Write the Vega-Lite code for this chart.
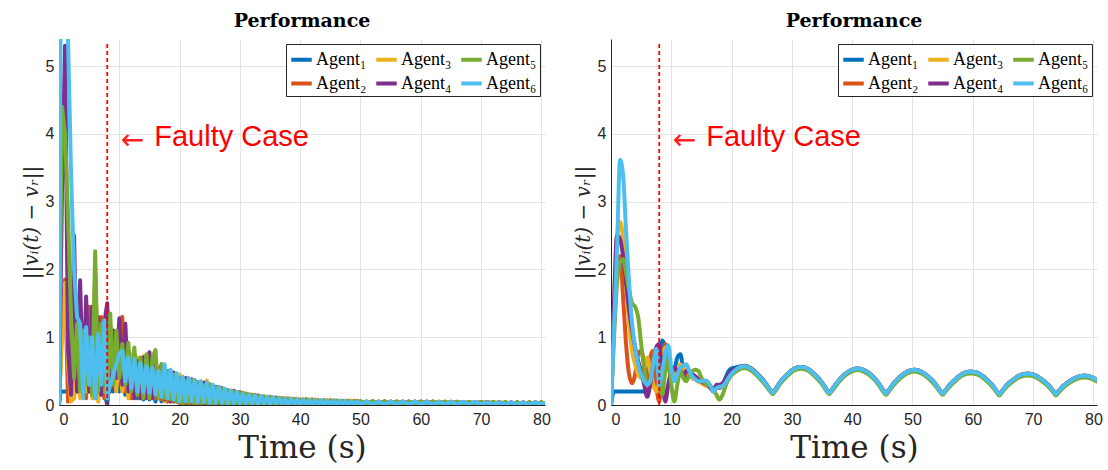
{
"$schema": "https://vega.github.io/schema/vega-lite/v6.json",
"background": "white",
"padding": {"left": 21, "top": 12, "right": 2, "bottom": 0},
"spacing": 22,
"resolve": {"legend": {"color": "independent"}},
"config": {
  "view": {"stroke": null},
  "axis": {"gridColor": "#e3e3e3", "gridWidth": 1, "domainColor": "#262626", "domainWidth": 1, "ticks": false,
           "labelFont": "Liberation Sans", "labelFontSize": 16, "labelColor": "#262626",
           "titleFont": "DejaVu Serif", "titleFontWeight": "normal", "titleColor": "#262626"},
  "title": {"font": "DejaVu Serif", "fontSize": 19, "fontWeight": "bold", "color": "#000000", "offset": 8},
  "legend": {"title": null, "orient": "top-right", "offset": 5, "columns": 3, "symbolType": "stroke", "symbolStrokeWidth": 4,
             "symbolSize": 420, "labelFont": "Liberation Serif", "labelFontSize": 18, "labelColor": "#000000",
             "fillColor": "white", "strokeColor": "#262626", "padding": 3, "columnPadding": 1, "rowPadding": 2, "labelOffset": 2}
},
"datasets": {
"L": [
{"t":0,"a1":0,"a2":0,"a3":0,"a4":0,"a5":0,"a6":0},
{"t":0.25,"a1":0.2,"a2":0.6,"a3":0.5,"a4":1.5,"a5":2.5,"a6":5.8},
{"t":0.5,"a1":0.2,"a2":1.2,"a3":1.0,"a4":3.2,"a5":4.4,"a6":6},
{"t":1,"a1":0.2,"a2":1.85,"a3":1.8,"a4":5.3,"a5":4.0,"a6":6},
{"t":1.5,"a1":0.2,"a2":0.05,"a3":0.6,"a4":0.8,"a5":2.8,"a6":5.4},
{"t":2,"a1":0.2,"a2":0.4,"a3":0.05,"a4":0.15,"a5":1.3,"a6":3.4},
{"t":2.5,"a1":0.2,"a2":0.1,"a3":0.1,"a4":2.5,"a5":0.4,"a6":2.0},
{"t":3,"a1":0.2,"a2":0.9,"a3":0.8,"a4":0.2,"a5":1.2,"a6":1.3},
{"t":3.5,"a1":0.2,"a2":0.3,"a3":0.1,"a4":1.84,"a5":0.2,"a6":1.2},
{"t":4,"a1":0.2,"a2":1.2,"a3":1.0,"a4":0.15,"a5":1.1,"a6":0.1},
{"t":4.5,"a1":0.2,"a2":0.1,"a3":0.2,"a4":1.6,"a5":0.3,"a6":1.15},
{"t":5,"a1":0.2,"a2":1.45,"a3":0.9,"a4":0.2,"a5":1.0,"a6":0.3},
{"t":5.5,"a1":0.2,"a2":0.2,"a3":0.1,"a4":1.45,"a5":0.15,"a6":1.0},
{"t":6,"a1":0.2,"a2":1.92,"a3":1.0,"a4":0.1,"a5":2.27,"a6":0.1},
{"t":6.5,"a1":0.2,"a2":0.4,"a3":0.05,"a4":1.3,"a5":0.2,"a6":1.05},
{"t":7,"a1":0.2,"a2":1.3,"a3":0.9,"a4":0.15,"a5":1.2,"a6":0.3},
{"t":7.5,"a1":0.2,"a2":0.1,"a3":0.2,"a4":1.2,"a5":0.4,"a6":1.25},
{"t":8,"a1":0,"a2":1.2,"a3":1.0,"a4":1.5,"a5":0.1,"a6":0.1},
{"t":8.5,"a1":0.6,"a2":0.2,"a3":0.3,"a4":0.2,"a5":1.35,"a6":0.3},
{"t":9,"a1":0.2,"a2":1.0,"a3":0.9,"a4":1.1,"a5":0.3,"a6":0.45},
{"t":9.5,"a1":0.9,"a2":0.3,"a3":0.2,"a4":0.4,"a5":1.1,"a6":0.6},
{"t":10,"a1":0.2,"a2":1.1,"a3":0.8,"a4":1.28,"a5":0.4,"a6":0.75},
{"t":10.5,"a1":0.8,"a2":1.3,"a3":0.2,"a4":0.3,"a5":0.9,"a6":0.8},
{"t":11,"a1":0.15,"a2":0.2,"a3":0.7,"a4":1.2,"a5":0.3,"a6":0.35},
{"t":11.5,"a1":0.7,"a2":0.8,"a3":0.1,"a4":0.2,"a5":0.92,"a6":0.7},
{"t":12,"a1":0.1,"a2":0.1,"a3":0.75,"a4":0.6,"a5":0.2,"a6":0.25},
{"t":12.5,"a1":0.6,"a2":0.75,"a3":0.1,"a4":0.1,"a5":0.85,"a6":0.68},
{"t":13,"a1":0.1,"a2":0.15,"a3":0.7,"a4":0.65,"a5":0.15,"a6":0.2},
{"t":13.5,"a1":0.55,"a2":0.65,"a3":0.1,"a4":0.1,"a5":0.7,"a6":0.62},
{"t":14,"a1":0.08,"a2":0.1,"a3":0.72,"a4":0.7,"a5":0.1,"a6":0.2},
{"t":14.5,"a1":0.5,"a2":0.7,"a3":0.1,"a4":0.1,"a5":0.75,"a6":0.58},
{"t":15,"a1":0.08,"a2":0.1,"a3":0.6,"a4":0.78,"a5":0.1,"a6":0.18},
{"t":15.5,"a1":0.5,"a2":0.6,"a3":0.1,"a4":0.1,"a5":0.7,"a6":0.55},
{"t":16,"a1":0.05,"a2":0.1,"a3":0.65,"a4":0.6,"a5":0.81,"a6":0.15},
{"t":16.5,"a1":0.45,"a2":0.55,"a3":0.1,"a4":0.1,"a5":0.1,"a6":0.5},
{"t":17,"a1":0.05,"a2":0.08,"a3":0.55,"a4":0.6,"a5":0.6,"a6":0.12},
{"t":17.5,"a1":0.4,"a2":0.5,"a3":0.05,"a4":0.08,"a5":0.1,"a6":0.6},
{"t":18,"a1":0.05,"a2":0.05,"a3":0.5,"a4":0.5,"a5":0.5,"a6":0.1},
{"t":18.5,"a1":0.4,"a2":0.45,"a3":0.05,"a4":0.05,"a5":0.08,"a6":0.52},
{"t":19,"a1":0.05,"a2":0.05,"a3":0.45,"a4":0.48,"a5":0.45,"a6":0.08},
{"t":19.5,"a1":0.35,"a2":0.42,"a3":0.05,"a4":0.05,"a5":0.05,"a6":0.47},
{"t":20,"a1":0.03,"a2":0.03,"a3":0.45,"a4":0.4,"a5":0.4,"a6":0.05},
{"t":20.5,"a1":0.34,"a2":0.40,"a3":0.03,"a4":0.04,"a5":0.02,"a6":0.42},
{"t":21,"a1":0.02,"a2":0.03,"a3":0.38,"a4":0.40,"a5":0.36,"a6":0.06},
{"t":21.5,"a1":0.33,"a2":0.36,"a3":0.03,"a4":0.02,"a5":0.03,"a6":0.40},
{"t":22,"a1":0.02,"a2":0.02,"a3":0.34,"a4":0.38,"a5":0.37,"a6":0.05},
{"t":22.5,"a1":0.30,"a2":0.37,"a3":0.02,"a4":0.03,"a5":0.02,"a6":0.37},
{"t":23,"a1":0.03,"a2":0.02,"a3":0.33,"a4":0.30,"a5":0.34,"a6":0.04},
{"t":23.5,"a1":0.29,"a2":0.32,"a3":0.03,"a4":0.02,"a5":0.02,"a6":0.35},
{"t":24,"a1":0.02,"a2":0.03,"a3":0.30,"a4":0.33,"a5":0.29,"a6":0.04},
{"t":24.5,"a1":0.27,"a2":0.30,"a3":0.36,"a4":0.02,"a5":0.03,"a6":0.33},
{"t":25,"a1":0.02,"a2":0.02,"a3":0.05,"a4":0.30,"a5":0.31,"a6":0.03},
{"t":25.5,"a1":0.25,"a2":0.28,"a3":0.27,"a4":0.03,"a5":0.02,"a6":0.30},
{"t":26,"a1":0.02,"a2":0.03,"a3":0.02,"a4":0.27,"a5":0.26,"a6":0.03},
{"t":26.5,"a1":0.23,"a2":0.26,"a3":0.25,"a4":0.02,"a5":0.03,"a6":0.27},
{"t":27,"a1":0.02,"a2":0.02,"a3":0.03,"a4":0.25,"a5":0.24,"a6":0.03},
{"t":27.5,"a1":0.21,"a2":0.23,"a3":0.22,"a4":0.02,"a5":0.02,"a6":0.24},
{"t":28,"a1":0.02,"a2":0.02,"a3":0.02,"a4":0.22,"a5":0.22,"a6":0.02},
{"t":28.5,"a1":0.19,"a2":0.21,"a3":0.20,"a4":0.03,"a5":0.02,"a6":0.21},
{"t":29,"a1":0.01,"a2":0.02,"a3":0.02,"a4":0.21,"a5":0.20,"a6":0.02},
{"t":29.5,"a1":0.17,"a2":0.19,"a3":0.18,"a4":0.02,"a5":0.03,"a6":0.19},
{"t":30,"a1":0.02,"a2":0.01,"a3":0.02,"a4":0.19,"a5":0.18,"a6":0.02},
{"t":30.5,"a1":0.16,"a2":0.18,"a3":0.17,"a4":0.02,"a5":0.02,"a6":0.17},
{"t":31,"a1":0.01,"a2":0.02,"a3":0.02,"a4":0.16,"a5":0.17,"a6":0.02},
{"t":31.5,"a1":0.15,"a2":0.16,"a3":0.16,"a4":0.02,"a5":0.01,"a6":0.15},
{"t":32,"a1":0.01,"a2":0.01,"a3":0.02,"a4":0.15,"a5":0.15,"a6":0.02},
{"t":32.5,"a1":0.13,"a2":0.15,"a3":0.14,"a4":0.01,"a5":0.02,"a6":0.14},
{"t":33,"a1":0.01,"a2":0.02,"a3":0.01,"a4":0.14,"a5":0.13,"a6":0.01},
{"t":33.5,"a1":0.12,"a2":0.13,"a3":0.13,"a4":0.02,"a5":0.01,"a6":0.13},
{"t":34,"a1":0.01,"a2":0.01,"a3":0.02,"a4":0.12,"a5":0.13,"a6":0.02},
{"t":34.5,"a1":0.11,"a2":0.12,"a3":0.12,"a4":0.01,"a5":0.02,"a6":0.12},
{"t":35,"a1":0.02,"a2":0.01,"a3":0.01,"a4":0.12,"a5":0.12,"a6":0.01},
{"t":35.5,"a1":0.10,"a2":0.11,"a3":0.11,"a4":0.01,"a5":0.01,"a6":0.11},
{"t":36,"a1":0.01,"a2":0.02,"a3":0.01,"a4":0.11,"a5":0.10,"a6":0.02},
{"t":36.5,"a1":0.10,"a2":0.10,"a3":0.11,"a4":0.01,"a5":0.01,"a6":0.10},
{"t":37,"a1":0.01,"a2":0.01,"a3":0.02,"a4":0.10,"a5":0.10,"a6":0.01},
{"t":37.5,"a1":0.09,"a2":0.10,"a3":0.10,"a4":0.01,"a5":0.01,"a6":0.09},
{"t":38,"a1":0.01,"a2":0.01,"a3":0.01,"a4":0.09,"a5":0.10,"a6":0.01},
{"t":38.5,"a1":0.09,"a2":0.09,"a3":0.09,"a4":0.02,"a5":0.01,"a6":0.09},
{"t":39,"a1":0.01,"a2":0.01,"a3":0.01,"a4":0.09,"a5":0.09,"a6":0.01},
{"t":39.5,"a1":0.08,"a2":0.09,"a3":0.09,"a4":0.01,"a5":0.01,"a6":0.08},
{"t":40,"a1":0.01,"a2":0.01,"a3":0.01,"a4":0.08,"a5":0.08,"a6":0.01},
{"t":40.5,"a1":0.08,"a2":0.08,"a3":0.08,"a4":0.01,"a5":0.01,"a6":0.08},
{"t":41,"a1":0.01,"a2":0.01,"a3":0.01,"a4":0.08,"a5":0.09,"a6":0.01},
{"t":41.5,"a1":0.07,"a2":0.08,"a3":0.08,"a4":0.01,"a5":0.01,"a6":0.07},
{"t":42,"a1":0.01,"a2":0.01,"a3":0.01,"a4":0.08,"a5":0.08,"a6":0.01},
{"t":42.5,"a1":0.07,"a2":0.08,"a3":0.07,"a4":0.01,"a5":0.01,"a6":0.07},
{"t":43,"a1":0.01,"a2":0.01,"a3":0.01,"a4":0.07,"a5":0.07,"a6":0.01},
{"t":43.5,"a1":0.07,"a2":0.07,"a3":0.07,"a4":0.01,"a5":0.01,"a6":0.07},
{"t":44,"a1":0.01,"a2":0.01,"a3":0.01,"a4":0.07,"a5":0.07,"a6":0.01},
{"t":44.5,"a1":0.06,"a2":0.07,"a3":0.07,"a4":0.01,"a5":0.01,"a6":0.06},
{"t":45,"a1":0.01,"a2":0.01,"a3":0.01,"a4":0.07,"a5":0.07,"a6":0.01},
{"t":45.5,"a1":0.06,"a2":0.07,"a3":0.06,"a4":0.01,"a5":0.01,"a6":0.06},
{"t":46,"a1":0.01,"a2":0.01,"a3":0.01,"a4":0.06,"a5":0.07,"a6":0.01},
{"t":46.5,"a1":0.06,"a2":0.06,"a3":0.06,"a4":0.01,"a5":0.01,"a6":0.06},
{"t":47,"a1":0.01,"a2":0.01,"a3":0.01,"a4":0.06,"a5":0.06,"a6":0.01},
{"t":47.5,"a1":0.06,"a2":0.06,"a3":0.06,"a4":0.01,"a5":0.01,"a6":0.06},
{"t":48,"a1":0.01,"a2":0.01,"a3":0.01,"a4":0.06,"a5":0.06,"a6":0.01},
{"t":48.5,"a1":0.05,"a2":0.06,"a3":0.06,"a4":0.01,"a5":0.01,"a6":0.05},
{"t":49,"a1":0.01,"a2":0.01,"a3":0.01,"a4":0.06,"a5":0.06,"a6":0.01},
{"t":49.5,"a1":0.05,"a2":0.06,"a3":0.05,"a4":0.01,"a5":0.01,"a6":0.05},
{"t":50,"a1":0.01,"a2":0.01,"a3":0.01,"a4":0.05,"a5":0.06,"a6":0.01},
{"t":51,"a1":0.05,"a2":0.05,"a3":0.01,"a4":0.01,"a5":0.01,"a6":0.05},
{"t":52,"a1":0.01,"a2":0.01,"a3":0.05,"a4":0.05,"a5":0.06,"a6":0.01},
{"t":53,"a1":0.05,"a2":0.05,"a3":0.01,"a4":0.01,"a5":0.01,"a6":0.05},
{"t":54,"a1":0.01,"a2":0.01,"a3":0.06,"a4":0.05,"a5":0.05,"a6":0.01},
{"t":55,"a1":0.05,"a2":0.05,"a3":0.01,"a4":0.01,"a5":0.01,"a6":0.05},
{"t":56,"a1":0.01,"a2":0.01,"a3":0.05,"a4":0.05,"a5":0.05,"a6":0.01},
{"t":57,"a1":0.05,"a2":0.05,"a3":0.01,"a4":0.01,"a5":0.01,"a6":0.05},
{"t":58,"a1":0.01,"a2":0.01,"a3":0.05,"a4":0.05,"a5":0.05,"a6":0.01},
{"t":59,"a1":0.05,"a2":0.05,"a3":0.01,"a4":0.01,"a5":0.01,"a6":0.05},
{"t":60,"a1":0.01,"a2":0.01,"a3":0.05,"a4":0.05,"a5":0.05,"a6":0.01},
{"t":61,"a1":0.05,"a2":0.05,"a3":0.01,"a4":0.01,"a5":0.01,"a6":0.045},
{"t":62,"a1":0.01,"a2":0.01,"a3":0.05,"a4":0.05,"a5":0.05,"a6":0.01},
{"t":63,"a1":0.045,"a2":0.05,"a3":0.01,"a4":0.01,"a5":0.01,"a6":0.045},
{"t":64,"a1":0.01,"a2":0.01,"a3":0.05,"a4":0.045,"a5":0.05,"a6":0.01},
{"t":65,"a1":0.045,"a2":0.05,"a3":0.01,"a4":0.01,"a5":0.01,"a6":0.045},
{"t":66,"a1":0.01,"a2":0.01,"a3":0.045,"a4":0.045,"a5":0.05,"a6":0.01},
{"t":67,"a1":0.045,"a2":0.045,"a3":0.01,"a4":0.01,"a5":0.01,"a6":0.045},
{"t":68,"a1":0.01,"a2":0.01,"a3":0.045,"a4":0.045,"a5":0.045,"a6":0.01},
{"t":69,"a1":0.045,"a2":0.045,"a3":0.01,"a4":0.01,"a5":0.01,"a6":0.045},
{"t":70,"a1":0.01,"a2":0.01,"a3":0.045,"a4":0.045,"a5":0.045,"a6":0.01},
{"t":71,"a1":0.045,"a2":0.045,"a3":0.01,"a4":0.01,"a5":0.01,"a6":0.04},
{"t":72,"a1":0.01,"a2":0.01,"a3":0.045,"a4":0.04,"a5":0.045,"a6":0.01},
{"t":73,"a1":0.04,"a2":0.045,"a3":0.01,"a4":0.01,"a5":0.01,"a6":0.04},
{"t":74,"a1":0.01,"a2":0.01,"a3":0.04,"a4":0.04,"a5":0.045,"a6":0.01},
{"t":75,"a1":0.04,"a2":0.04,"a3":0.01,"a4":0.01,"a5":0.01,"a6":0.04},
{"t":76,"a1":0.01,"a2":0.01,"a3":0.04,"a4":0.04,"a5":0.04,"a6":0.01},
{"t":77,"a1":0.04,"a2":0.04,"a3":0.01,"a4":0.01,"a5":0.01,"a6":0.04},
{"t":78,"a1":0.01,"a2":0.01,"a3":0.04,"a4":0.04,"a5":0.04,"a6":0.01},
{"t":79,"a1":0.04,"a2":0.04,"a3":0.01,"a4":0.01,"a5":0.01,"a6":0.04},
{"t":80,"a1":0.01,"a2":0.01,"a3":0.04,"a4":0.04,"a5":0.04,"a6":0.01},
{"t":80.6,"a1":0.03,"a2":0.03,"a3":0.02,"a4":0.02,"a5":0.02,"a6":0.03}
],
"R": [
{"t":0,"a1":0,"a2":0,"a3":0,"a4":0,"a5":0,"a6":0},
{"t":0.5,"a1":0.2,"a2":1.2,"a3":1.5,"a4":1.5,"a5":1.0,"a6":1.1},
{"t":1,"a1":0.2,"a2":2.1,"a3":2.5,"a4":2.5,"a5":1.8,"a6":2.3},
{"t":1.5,"a1":0.2,"a2":2.2,"a3":2.7,"a4":2.45,"a5":2.1,"a6":3.62},
{"t":2,"a1":0.2,"a2":1.6,"a3":2.45,"a4":2.2,"a5":2.15,"a6":3.4},
{"t":2.5,"a1":0.2,"a2":0.9,"a3":1.8,"a4":1.8,"a5":1.95,"a6":2.56},
{"t":3,"a1":0.2,"a2":0.45,"a3":1.2,"a4":1.4,"a5":1.7,"a6":1.8},
{"t":3.5,"a1":0.2,"a2":0.32,"a3":0.8,"a4":1.1,"a5":1.5,"a6":1.2},
{"t":4,"a1":0.2,"a2":0.45,"a3":0.6,"a4":0.85,"a5":1.45,"a6":0.85},
{"t":4.5,"a1":0.2,"a2":0.75,"a3":0.45,"a4":0.65,"a5":1.3,"a6":0.6},
{"t":5,"a1":0.2,"a2":0.8,"a3":0.4,"a4":0.5,"a5":0.9,"a6":0.45},
{"t":5.5,"a1":0.2,"a2":0.6,"a3":0.55,"a4":0.3,"a5":0.55,"a6":0.35},
{"t":6,"a1":0.2,"a2":0.35,"a3":0.7,"a4":0.12,"a5":0.3,"a6":0.3},
{"t":6.5,"a1":0.3,"a2":0.7,"a3":0.5,"a4":0.3,"a5":0.35,"a6":0.35},
{"t":7,"a1":0.6,"a2":0.8,"a3":0.3,"a4":0.6,"a5":0.6,"a6":0.6},
{"t":7.5,"a1":0.45,"a2":0.3,"a3":0.2,"a4":0.85,"a5":0.8,"a6":0.83},
{"t":8,"a1":0.15,"a2":0.05,"a3":0.35,"a4":0.9,"a5":0.45,"a6":0.3},
{"t":8.5,"a1":0.95,"a2":0.6,"a3":0.7,"a4":0.4,"a5":0.15,"a6":0.5},
{"t":9,"a1":0.85,"a2":0.9,"a3":0.85,"a4":0.05,"a5":0.5,"a6":0.75},
{"t":9.5,"a1":0.6,"a2":0.7,"a3":0.6,"a4":0.3,"a5":0.75,"a6":0.88},
{"t":10,"a1":0.4,"a2":0.4,"a3":0.45,"a4":0.5,"a5":0.3,"a6":0.55},
{"t":10.5,"a1":0.5,"a2":0.45,"a3":0.4,"a4":0.55,"a5":0.05,"a6":0.35},
{"t":11,"a1":0.7,"a2":0.5,"a3":0.5,"a4":0.5,"a5":0.3,"a6":0.45},
{"t":11.5,"a1":0.75,"a2":0.55,"a3":0.6,"a4":0.45,"a5":0.5,"a6":0.55},
{"t":12,"a1":0.5,"a2":0.5,"a3":0.55,"a4":0.45,"a5":0.4,"a6":0.58},
{"t":12.5,"a1":0.4,"a2":0.45,"a3":0.5,"a4":0.5,"a5":0.35,"a6":0.6},
{"t":13,"a1":0.45,"a2":0.45,"a3":0.45,"a4":0.48,"a5":0.45,"a6":0.5},
{"t":13.5,"a1":0.45,"a2":0.4,"a3":0.4,"a4":0.45,"a5":0.5,"a6":0.42},
{"t":14,"a1":0.42,"a2":0.38,"a3":0.38,"a4":0.42,"a5":0.52,"a6":0.38},
{"t":14.5,"a1":0.38,"a2":0.35,"a3":0.35,"a4":0.38,"a5":0.5,"a6":0.35},
{"t":15,"a1":0.35,"a2":0.33,"a3":0.32,"a4":0.35,"a5":0.4,"a6":0.35},
{"t":15.5,"a1":0.32,"a2":0.3,"a3":0.3,"a4":0.32,"a5":0.33,"a6":0.36},
{"t":16,"a1":0.3,"a2":0.28,"a3":0.28,"a4":0.3,"a5":0.3,"a6":0.35},
{"t":16.5,"a1":0.28,"a2":0.26,"a3":0.25,"a4":0.25,"a5":0.28,"a6":0.28},
{"t":17,"a1":0.25,"a2":0.22,"a3":0.2,"a4":0.2,"a5":0.22,"a6":0.2},
{"t":17.5,"a1":0.27,"a2":0.25,"a3":0.25,"a4":0.3,"a5":0.15,"a6":0.25},
{"t":18,"a1":0.25,"a2":0.26,"a3":0.27,"a4":0.3,"a5":0.08,"a6":0.27},
{"t":18.5,"a1":0.3,"a2":0.28,"a3":0.28,"a4":0.32,"a5":0.15,"a6":0.28},
{"t":19,"a1":0.4,"a2":0.35,"a3":0.32,"a4":0.38,"a5":0.28,"a6":0.33},
{"t":19.5,"a1":0.5,"a2":0.42,"a3":0.38,"a4":0.45,"a5":0.38,"a6":0.4},
{"t":20,"a1":0.54,"a2":0.48,"a3":0.45,"a4":0.5,"a5":0.44,"a6":0.46},
{"t":21,"a1":0.56,"a2":0.54,"a3":0.53,"a4":0.54,"a5":0.51,"a6":0.54},
{"t":22.1,"a1":0.58,"a2":0.57,"a3":0.57,"a4":0.57,"a5":0.545,"a6":0.57},
{"t":23.3,"a1":0.54,"a2":0.53,"a3":0.53,"a4":0.53,"a5":0.505,"a6":0.53},
{"t":24.4,"a1":0.45,"a2":0.44,"a3":0.44,"a4":0.44,"a5":0.415,"a6":0.44},
{"t":25.6,"a1":0.33,"a2":0.32,"a3":0.32,"a4":0.32,"a5":0.295,"a6":0.32},
{"t":26.4,"a1":0.22,"a2":0.22,"a3":0.22,"a4":0.22,"a5":0.2,"a6":0.22},
{"t":26.8,"a1":0.18,"a2":0.18,"a3":0.18,"a4":0.18,"a5":0.16,"a6":0.18},
{"t":27.2,"a1":0.22,"a2":0.22,"a3":0.22,"a4":0.22,"a5":0.2,"a6":0.22},
{"t":28,"a1":0.33,"a2":0.33,"a3":0.33,"a4":0.33,"a5":0.305,"a6":0.33},
{"t":29.2,"a1":0.45,"a2":0.45,"a3":0.45,"a4":0.45,"a5":0.425,"a6":0.45},
{"t":30.3,"a1":0.53,"a2":0.53,"a3":0.53,"a4":0.53,"a5":0.505,"a6":0.53},
{"t":31.5,"a1":0.56,"a2":0.56,"a3":0.56,"a4":0.56,"a5":0.535,"a6":0.56},
{"t":32.7,"a1":0.53,"a2":0.53,"a3":0.53,"a4":0.53,"a5":0.505,"a6":0.53},
{"t":33.8,"a1":0.45,"a2":0.45,"a3":0.45,"a4":0.45,"a5":0.425,"a6":0.45},
{"t":35,"a1":0.33,"a2":0.33,"a3":0.33,"a4":0.33,"a5":0.305,"a6":0.33},
{"t":35.8,"a1":0.22,"a2":0.22,"a3":0.22,"a4":0.22,"a5":0.2,"a6":0.22},
{"t":36.2,"a1":0.18,"a2":0.18,"a3":0.18,"a4":0.18,"a5":0.16,"a6":0.18},
{"t":36.6,"a1":0.22,"a2":0.22,"a3":0.22,"a4":0.22,"a5":0.2,"a6":0.22},
{"t":37.4,"a1":0.32,"a2":0.32,"a3":0.32,"a4":0.32,"a5":0.295,"a6":0.32},
{"t":38.6,"a1":0.44,"a2":0.44,"a3":0.44,"a4":0.44,"a5":0.415,"a6":0.44},
{"t":39.7,"a1":0.51,"a2":0.51,"a3":0.51,"a4":0.51,"a5":0.485,"a6":0.51},
{"t":40.9,"a1":0.54,"a2":0.54,"a3":0.54,"a4":0.54,"a5":0.515,"a6":0.54},
{"t":42.1,"a1":0.51,"a2":0.51,"a3":0.51,"a4":0.51,"a5":0.485,"a6":0.51},
{"t":43.2,"a1":0.44,"a2":0.44,"a3":0.44,"a4":0.44,"a5":0.415,"a6":0.44},
{"t":44.4,"a1":0.32,"a2":0.32,"a3":0.32,"a4":0.32,"a5":0.295,"a6":0.32},
{"t":45.2,"a1":0.21,"a2":0.21,"a3":0.21,"a4":0.21,"a5":0.19,"a6":0.21},
{"t":45.6,"a1":0.17,"a2":0.17,"a3":0.17,"a4":0.17,"a5":0.15,"a6":0.17},
{"t":46.0,"a1":0.21,"a2":0.21,"a3":0.21,"a4":0.21,"a5":0.19,"a6":0.21},
{"t":46.8,"a1":0.31,"a2":0.31,"a3":0.31,"a4":0.31,"a5":0.285,"a6":0.31},
{"t":48,"a1":0.42,"a2":0.42,"a3":0.42,"a4":0.42,"a5":0.395,"a6":0.42},
{"t":49.1,"a1":0.49,"a2":0.49,"a3":0.49,"a4":0.49,"a5":0.465,"a6":0.49},
{"t":50.3,"a1":0.52,"a2":0.52,"a3":0.52,"a4":0.52,"a5":0.495,"a6":0.52},
{"t":51.5,"a1":0.49,"a2":0.49,"a3":0.49,"a4":0.49,"a5":0.465,"a6":0.49},
{"t":52.6,"a1":0.42,"a2":0.42,"a3":0.42,"a4":0.42,"a5":0.395,"a6":0.42},
{"t":53.8,"a1":0.31,"a2":0.31,"a3":0.31,"a4":0.31,"a5":0.285,"a6":0.31},
{"t":54.6,"a1":0.21,"a2":0.21,"a3":0.21,"a4":0.21,"a5":0.19,"a6":0.21},
{"t":55,"a1":0.17,"a2":0.17,"a3":0.17,"a4":0.17,"a5":0.15,"a6":0.17},
{"t":55.4,"a1":0.21,"a2":0.21,"a3":0.21,"a4":0.21,"a5":0.19,"a6":0.21},
{"t":56.2,"a1":0.30,"a2":0.30,"a3":0.30,"a4":0.30,"a5":0.275,"a6":0.30},
{"t":57.4,"a1":0.40,"a2":0.40,"a3":0.40,"a4":0.40,"a5":0.375,"a6":0.40},
{"t":58.5,"a1":0.47,"a2":0.47,"a3":0.47,"a4":0.47,"a5":0.445,"a6":0.47},
{"t":59.7,"a1":0.49,"a2":0.49,"a3":0.49,"a4":0.49,"a5":0.465,"a6":0.49},
{"t":60.9,"a1":0.47,"a2":0.47,"a3":0.47,"a4":0.47,"a5":0.445,"a6":0.47},
{"t":62,"a1":0.40,"a2":0.40,"a3":0.40,"a4":0.40,"a5":0.375,"a6":0.40},
{"t":63.2,"a1":0.30,"a2":0.30,"a3":0.30,"a4":0.30,"a5":0.275,"a6":0.30},
{"t":64.0,"a1":0.20,"a2":0.20,"a3":0.20,"a4":0.20,"a5":0.18,"a6":0.20},
{"t":64.4,"a1":0.16,"a2":0.16,"a3":0.16,"a4":0.16,"a5":0.14,"a6":0.16},
{"t":64.8,"a1":0.20,"a2":0.20,"a3":0.20,"a4":0.20,"a5":0.18,"a6":0.20},
{"t":65.6,"a1":0.29,"a2":0.29,"a3":0.29,"a4":0.29,"a5":0.265,"a6":0.29},
{"t":66.8,"a1":0.38,"a2":0.38,"a3":0.38,"a4":0.38,"a5":0.355,"a6":0.38},
{"t":67.9,"a1":0.44,"a2":0.44,"a3":0.44,"a4":0.44,"a5":0.415,"a6":0.44},
{"t":69.1,"a1":0.46,"a2":0.46,"a3":0.46,"a4":0.46,"a5":0.435,"a6":0.46},
{"t":70.3,"a1":0.44,"a2":0.44,"a3":0.44,"a4":0.44,"a5":0.415,"a6":0.44},
{"t":71.4,"a1":0.38,"a2":0.38,"a3":0.38,"a4":0.38,"a5":0.355,"a6":0.38},
{"t":72.6,"a1":0.29,"a2":0.29,"a3":0.29,"a4":0.29,"a5":0.265,"a6":0.29},
{"t":73.4,"a1":0.20,"a2":0.20,"a3":0.20,"a4":0.20,"a5":0.18,"a6":0.20},
{"t":73.8,"a1":0.16,"a2":0.16,"a3":0.16,"a4":0.16,"a5":0.14,"a6":0.16},
{"t":74.2,"a1":0.20,"a2":0.20,"a3":0.20,"a4":0.20,"a5":0.18,"a6":0.20},
{"t":75,"a1":0.28,"a2":0.28,"a3":0.28,"a4":0.28,"a5":0.255,"a6":0.28},
{"t":76.2,"a1":0.36,"a2":0.36,"a3":0.36,"a4":0.36,"a5":0.335,"a6":0.36},
{"t":77.3,"a1":0.41,"a2":0.41,"a3":0.41,"a4":0.41,"a5":0.385,"a6":0.41},
{"t":78.5,"a1":0.43,"a2":0.43,"a3":0.43,"a4":0.43,"a5":0.405,"a6":0.43},
{"t":79.7,"a1":0.41,"a2":0.41,"a3":0.41,"a4":0.41,"a5":0.385,"a6":0.41},
{"t":80.6,"a1":0.37,"a2":0.37,"a3":0.37,"a4":0.37,"a5":0.345,"a6":0.37}
],
"ann": [{"t": 8, "y0": 0, "y1": 5.34}],
"arrow": [{"t": 12.2, "v": 3.9, "label": "←"}],
"note": [{"t": 15.8, "v": 3.815, "label": "Faulty Case"}]
},
"hconcat": [
{
 "width": 486, "height": 366,
 "title": {"text": "Performance"},
 "layer": [
  {"data": {"name": "L"},
   "transform": [{"fold": ["a1","a2","a3","a4","a5","a6"], "as": ["agent","value"]}],
   "mark": {"type": "line", "strokeWidth": 4, "clip": true, "strokeJoin": "round", "strokeCap": "round"},
   "encoding": {
     "x": {"field": "t", "type": "quantitative", "scale": {"domain": [0, 80.6], "nice": false},
           "axis": {"values": [0,10,20,30,40,50,60,70,80], "title": "Time (s)", "titleFontSize": 31, "labelPadding": 6, "titlePadding": 6}},
     "y": {"field": "value", "type": "quantitative", "scale": {"domain": [0, 5.4], "nice": false},
           "axis": {"values": [0,0.5,1,1.5,2,2.5,3,3.5,4,4.5,5], "format": "~g", "title": "||vᵢ(t) − vᵣ||", "titleFontSize": 20, "titleFontStyle": "italic", "labelPadding": 5, "titlePadding": 4}},
     "color": {"field": "agent", "type": "nominal",
       "scale": {"domain": ["a1","a2","a3","a4","a5","a6"], "range": ["#0072BD","#D95319","#EDB120","#7E2F8E","#77AC30","#4DBEEE"]},
       "legend": {"labelFont": "Liberation Serif", "labelFontSize": 18, "labelExpr": "datum.value=='a1'?'Agent₁':datum.value=='a2'?'Agent₂':datum.value=='a3'?'Agent₃':datum.value=='a4'?'Agent₄':datum.value=='a5'?'Agent₅':'Agent₆'"}}
   }},
  {"data": {"name": "ann"}, "mark": {"type": "rule", "color": "#ff0000", "strokeDash": [4,3], "strokeWidth": 1.8},
   "encoding": {"x": {"field": "t", "type": "quantitative"}, "y": {"field": "y0", "type": "quantitative"}, "y2": {"field": "y1"}}},
  {"data": {"name": "arrow"}, "mark": {"type": "text", "color": "#ff2020", "font": "DejaVu Sans", "fontSize": 28, "align": "center", "baseline": "middle"},
   "encoding": {"x": {"field": "t", "type": "quantitative"}, "y": {"field": "v", "type": "quantitative"}, "text": {"field": "label"}}},
  {"data": {"name": "note"}, "mark": {"type": "text", "color": "#ff0000", "font": "Liberation Sans", "fontSize": 29, "align": "left", "baseline": "alphabetic"},
   "encoding": {"x": {"field": "t", "type": "quantitative"}, "y": {"field": "v", "type": "quantitative"}, "text": {"field": "label"}}}
 ]
},
{
 "width": 486, "height": 366,
 "title": {"text": "Performance"},
 "layer": [
  {"data": {"name": "R"},
   "transform": [{"fold": ["a1","a2","a3","a4","a5","a6"], "as": ["agent","value"]}],
   "mark": {"type": "line", "strokeWidth": 4, "clip": true, "strokeJoin": "round", "strokeCap": "round", "interpolate": "monotone"},
   "encoding": {
     "x": {"field": "t", "type": "quantitative", "scale": {"domain": [0, 80.6], "nice": false},
           "axis": {"values": [0,10,20,30,40,50,60,70,80], "title": "Time (s)", "titleFontSize": 31, "labelPadding": 6, "titlePadding": 6}},
     "y": {"field": "value", "type": "quantitative", "scale": {"domain": [0, 5.4], "nice": false},
           "axis": {"values": [0,0.5,1,1.5,2,2.5,3,3.5,4,4.5,5], "format": "~g", "title": "||vᵢ(t) − vᵣ||", "titleFontSize": 20, "titleFontStyle": "italic", "labelPadding": 5, "titlePadding": 4}},
     "color": {"field": "agent", "type": "nominal",
       "scale": {"domain": ["a1","a2","a3","a4","a5","a6"], "range": ["#0072BD","#D95319","#EDB120","#7E2F8E","#77AC30","#4DBEEE"]},
       "legend": {"labelFont": "Liberation Serif", "labelFontSize": 18, "labelExpr": "datum.value=='a1'?'Agent₁':datum.value=='a2'?'Agent₂':datum.value=='a3'?'Agent₃':datum.value=='a4'?'Agent₄':datum.value=='a5'?'Agent₅':'Agent₆'"}}
   }},
  {"data": {"name": "ann"}, "mark": {"type": "rule", "color": "#ff0000", "strokeDash": [4,3], "strokeWidth": 1.8},
   "encoding": {"x": {"field": "t", "type": "quantitative"}, "y": {"field": "y0", "type": "quantitative"}, "y2": {"field": "y1"}}},
  {"data": {"name": "arrow"}, "mark": {"type": "text", "color": "#ff2020", "font": "DejaVu Sans", "fontSize": 28, "align": "center", "baseline": "middle"},
   "encoding": {"x": {"field": "t", "type": "quantitative"}, "y": {"field": "v", "type": "quantitative"}, "text": {"field": "label"}}},
  {"data": {"name": "note"}, "mark": {"type": "text", "color": "#ff0000", "font": "Liberation Sans", "fontSize": 29, "align": "left", "baseline": "alphabetic"},
   "encoding": {"x": {"field": "t", "type": "quantitative"}, "y": {"field": "v", "type": "quantitative"}, "text": {"field": "label"}}}
 ]
}
]
}
